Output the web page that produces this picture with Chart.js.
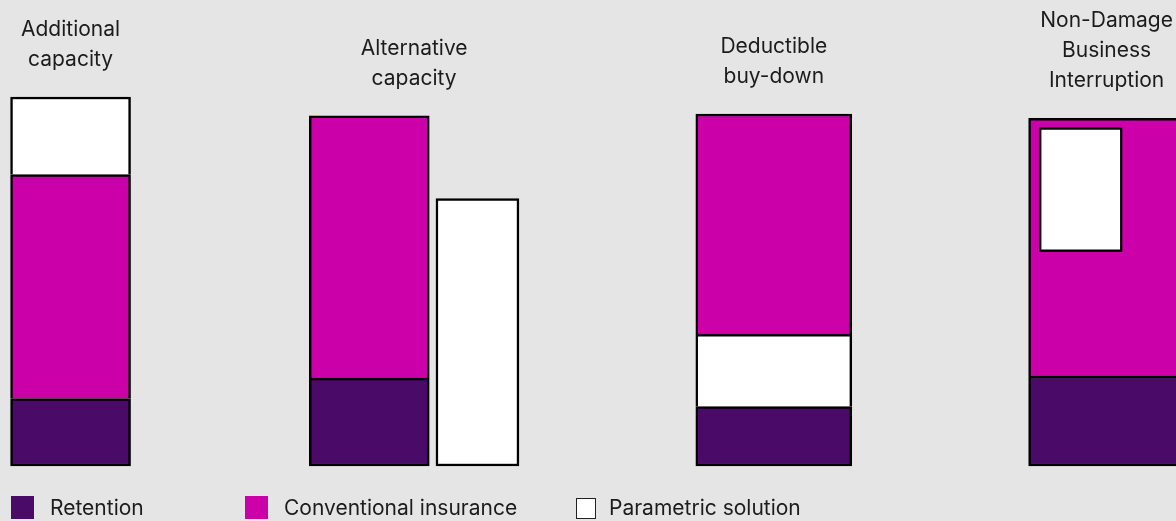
<!DOCTYPE html>
<html lang="en">
<head>
    <meta charset="UTF-8">
    <title>Parametric solutions</title>
    <script src="https://cdn.jsdelivr.net/npm/chart.js"></script>
    <style>
        body {
            margin: 0;
            padding: 0;
            background: #e5e5e5;
        }

        #wrap {
            position: relative;
            width: 1176px;
            height: 521px;
            overflow: hidden;
        }

        #legend {
            position: absolute;
            left: 0;
            top: 495px;
            width: 100%;
            height: 26px;
            font-family: Inter, "Noto Sans", sans-serif;
            font-size: 21px;
            color: #1c1c1c;
        }
        .item { position: absolute; top: 0; display: flex; align-items: center; }
        .swatch { width: 23px; height: 23px; box-sizing: border-box; margin-right: 16px; }
        .swatch.open { width: 20px; height: 21px; border: 1.5px solid #222; margin-right: 13px; margin-top: 1px; }
    </style>
</head>
<body>

<div id="wrap">
    <canvas id="chart"></canvas>
    <div id="legend"></div>
</div>

<script>
    // group titles (one entry per line)
    const groups = [
        ['Additional', 'capacity'],
        ['Alternative', 'capacity'],
        ['Deductible', 'buy-down'],
        ['Non-Damage', 'Business', 'Interruption']
    ];
    const seriesNames = ['Retention', 'Conventional insurance', 'Parametric solution'];

    // segment ranges [from, to], share of the tallest column (0-100)
    const retention    = [[0, 18.3], [0, 23.8], [0, 16.1], [0, 24.4]];
    const conventional = [[18.3, 79.0], [23.8, 94.9], [35.7, 95.4], [24.4, 94.2]];
    const parametric   = [[79.0, 100], [0, 72.5], [16.1, 35.7], [58.1, 91.7]];

    // layout: column centres across the page (0-100) and widths in px
    const mainX  = [6.0, 31.4, 65.8, 94.1];
    const mainW  = [120, 120, 156, 156];
    const paramX = [6.0, 40.6, 65.8, 91.9];
    const paramW = [120, 83, 156, 83];
    const paramInset = [false, false, false, true];

    const colors = ['#490a68', '#cc00a8', '#ffffff'];
    const seriesData = [retention, conventional, parametric];

    const datasets = [];
    seriesData.forEach((series, s) => {
        series.forEach((range, g) => {
            const isParam = s === 2;
            const inset = isParam && paramInset[g];
            datasets.push({
                label: seriesNames[s],
                group: g,
                data: [{ x: isParam ? paramX[g] : mainX[g], y: range }],
                barThickness: isParam ? paramW[g] : mainW[g],
                backgroundColor: colors[s],
                borderColor: '#000',
                borderWidth: 2.5,
                borderSkipped: (range[0] > 0 && !inset) ? 'bottom' : false,
                grouped: false,
                clip: false,
                order: inset ? 0 : 1
            });
        });
    });

    // titles above each group, placed from the drawn bars
    const groupTitles = {
        id: 'groupTitles',
        afterDatasetsDraw(chart) {
            const ctx = chart.ctx;
            const ext = groups.map(() => ({ left: Infinity, right: -Infinity, top: Infinity }));
            chart.data.datasets.forEach((ds, i) => {
                const bar = chart.getDatasetMeta(i).data[0];
                if (!bar) return;
                const e = ext[ds.group];
                e.left = Math.min(e.left, bar.x - bar.width / 2);
                e.right = Math.max(e.right, bar.x + bar.width / 2);
                e.top = Math.min(e.top, bar.y);
            });
            ctx.save();
            ctx.font = '21px Inter, "Noto Sans", sans-serif';
            ctx.fillStyle = '#1c1c1c';
            ctx.textAlign = 'center';
            ctx.textBaseline = 'alphabetic';
            groups.forEach((lines, g) => {
                const e = ext[g];
                const cx = (e.left + e.right) / 2;
                const base = e.top - 31;
                lines.forEach((t, k) => {
                    ctx.fillText(t, cx, base - (lines.length - 1 - k) * 30);
                });
            });
            ctx.restore();
        }
    };

    new Chart(document.getElementById('chart'), {
        type: 'bar',
        data: { datasets },
        options: {
            responsive: true,
            maintainAspectRatio: false,
            animation: false,
            events: [],
            layout: { padding: { top: 97, bottom: 55, left: 0, right: 0 } },
            scales: {
                x: { type: 'linear', min: 0, max: 100, offset: false, display: false },
                y: { min: 0, max: 100, display: false }
            },
            plugins: {
                legend: { display: false },
                tooltip: { enabled: false }
            }
        },
        plugins: [groupTitles]
    });

    // legend
    const legendLeft = [11, 245, 576];
    const legend = document.getElementById('legend');
    seriesNames.forEach((name, s) => {
        const item = document.createElement('div');
        item.className = 'item';
        item.style.left = legendLeft[s] + 'px';
        const sw = document.createElement('span');
        sw.className = 'swatch' + (s === 2 ? ' open' : '');
        sw.style.background = colors[s];
        const txt = document.createElement('span');
        txt.textContent = name;
        item.appendChild(sw);
        item.appendChild(txt);
        legend.appendChild(item);
    });
</script>

</body>
</html>
